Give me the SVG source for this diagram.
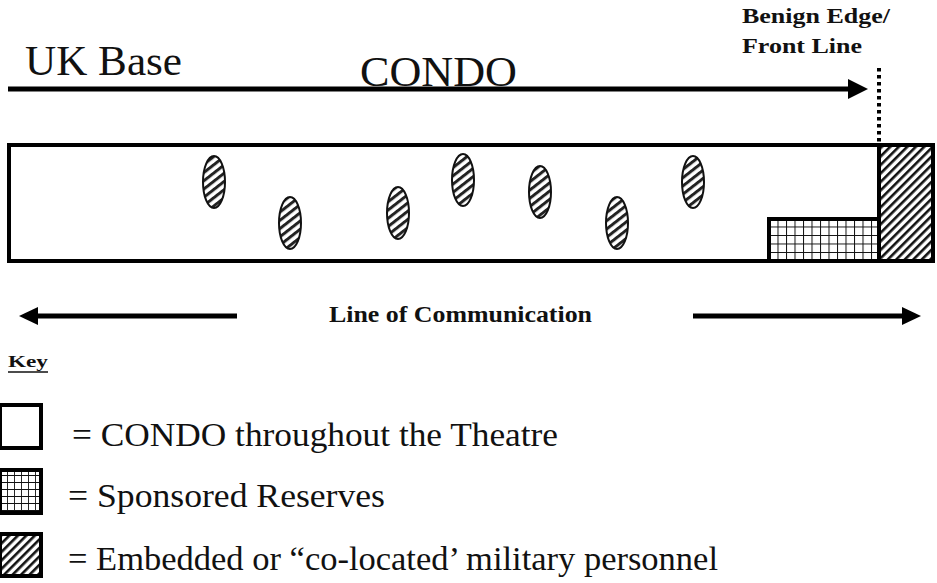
<svg xmlns="http://www.w3.org/2000/svg" width="937" height="583" viewBox="0 0 937 583">
<style>
text{font-family:'Liberation Serif','Times New Roman',Times,serif;fill:#111}
.bold{font-weight:bold}
.line{stroke:#000;stroke-width:5;fill:none}
.box{stroke:#000;stroke-width:4}
.oval{stroke:#111;stroke-width:2;fill:url(#hatchOval)}
</style>
<defs>
<pattern id="hatch" patternUnits="userSpaceOnUse" width="6" height="6" patternTransform="rotate(45)">
<rect width="6" height="6" fill="#fff"/>
<rect width="2.6" height="6" fill="#111"/>
</pattern>
<pattern id="hatchOval" patternUnits="userSpaceOnUse" width="6.5" height="6.5" patternTransform="rotate(52)">
<rect width="6.5" height="6.5" fill="#fff"/>
<rect width="3" height="6.5" fill="#222"/>
</pattern>
<pattern id="grid" patternUnits="userSpaceOnUse" width="8.5" height="8.5" x="769" y="218">
<rect width="8.5" height="8.5" fill="#fff"/>
<path d="M0 0H8.5M0 0V8.5" stroke="#111" stroke-width="2"/>
</pattern>
<pattern id="gridKey" patternUnits="userSpaceOnUse" width="7" height="7" x="0" y="468">
<rect width="7" height="7" fill="#fff"/>
<path d="M0 0H7M0 0V7" stroke="#111" stroke-width="1.8"/>
</pattern>
</defs>

<g id="labels-top">
<text x="25" y="75" font-size="42" textLength="157" lengthAdjust="spacingAndGlyphs">UK Base</text>
<text x="360" y="86" font-size="42" textLength="157" lengthAdjust="spacingAndGlyphs">CONDO</text>
<text class="bold" x="742" y="23" font-size="21" textLength="148" lengthAdjust="spacingAndGlyphs">Benign Edge/</text>
<text class="bold" x="742" y="53" font-size="21" textLength="120" lengthAdjust="spacingAndGlyphs">Front Line</text>
</g>

<g id="connectors">
<line class="line" x1="8" y1="89" x2="850" y2="89"/>
<path d="M848 79L868 89L848 99Z" fill="#000"/>
<line x1="879" y1="68" x2="879" y2="143" stroke="#000" stroke-width="4" stroke-dasharray="3.5 3.5"/>
<line class="line" x1="237" y1="316" x2="36" y2="316"/>
<path d="M38 307L19 316L38 325Z" fill="#000"/>
<line class="line" x1="693" y1="316" x2="904" y2="316"/>
<path d="M902 307L921 316L902 325Z" fill="#000"/>
</g>

<g id="theatre">
<rect class="box" x="9" y="145" width="924" height="116" fill="#fff"/>
</g>
<g id="reserves">
<rect class="box" x="769" y="219" width="110" height="42" fill="url(#grid)"/>
</g>
<g id="front-line">
<rect class="box" x="879" y="145" width="54" height="116" fill="url(#hatch)"/>
</g>

<g id="personnel">
<ellipse class="oval" cx="214" cy="182" rx="11" ry="26"/>
<ellipse class="oval" cx="290" cy="223" rx="11" ry="26"/>
<ellipse class="oval" cx="398" cy="213" rx="11" ry="26"/>
<ellipse class="oval" cx="463" cy="180" rx="11" ry="26"/>
<ellipse class="oval" cx="540" cy="192" rx="11" ry="26"/>
<ellipse class="oval" cx="617" cy="223" rx="11" ry="26"/>
<ellipse class="oval" cx="693" cy="182" rx="11" ry="26"/>
</g>

<g id="loc-label">
<text class="bold" x="329" y="322" font-size="24" textLength="263" lengthAdjust="spacingAndGlyphs">Line of Communication</text>
</g>

<g id="key">
<text class="bold" x="8" y="367" font-size="17" textLength="40" lengthAdjust="spacingAndGlyphs">Key</text>
<line x1="8" y1="372" x2="48" y2="372" stroke="#111" stroke-width="1.5"/>
<rect class="box" x="0" y="405" width="41" height="43" fill="#fff"/>
<rect class="box" x="0" y="470" width="41" height="43" fill="url(#gridKey)"/>
<rect class="box" x="0" y="534" width="41" height="42" fill="url(#hatch)"/>
<text x="72" y="446" font-size="33" textLength="486" lengthAdjust="spacingAndGlyphs">= CONDO throughout the Theatre</text>
<text x="68" y="507" font-size="33" textLength="317" lengthAdjust="spacingAndGlyphs">= Sponsored Reserves</text>
<text x="68" y="570" font-size="33" textLength="650" lengthAdjust="spacingAndGlyphs">= Embedded or “co-located’ military personnel</text>
</g>
</svg>
